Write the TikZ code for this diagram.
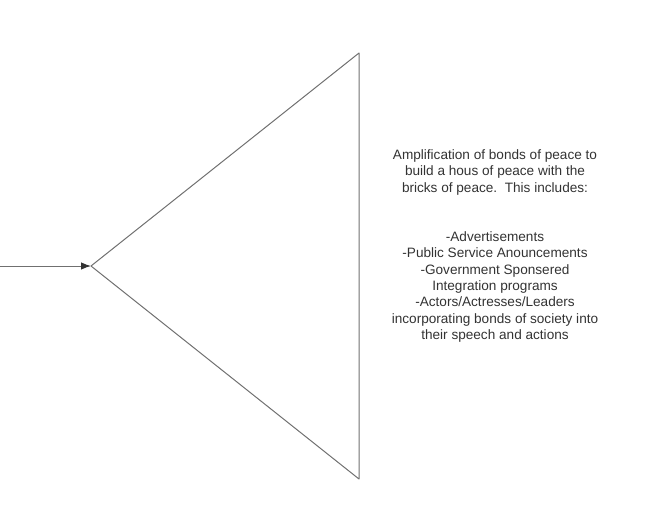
\documentclass[tikz,border=0pt]{standalone}
\usepackage{fontspec}
\setmainfont{Liberation Sans}
\usetikzlibrary{arrows.meta}
\definecolor{linegray}{HTML}{707070}
\definecolor{textgray}{HTML}{333333}
\tikzset{
  shapeline/.style={draw=linegray, line width=1pt, line join=round},
  connector/.style={draw=linegray, line width=1pt, -{Latex[length=10pt,width=7.5pt,color=textgray]}},
  label/.style={text=textgray, align=center, font=\fontsize{13.6pt}{16.4pt}\selectfont, inner sep=0pt}
}
\begin{document}
\begin{tikzpicture}[x=1pt,y=-1pt]
\useasboundingbox (0,0) rectangle (658,514);
\coordinate (L) at (91,266);
\coordinate (T) at (359,53);
\coordinate (B) at (359,479);
\coordinate (start) at (0,266);
\draw[shapeline] (L) -- (T) -- (B) -- cycle;
\draw[connector] (start) -- (L);
\node[label] (txt) at (495,246) {Amplification of bonds of peace to\\build a hous of peace with the\\bricks of peace.\ \ This includes:\\ \mbox{}\\ \mbox{}\\-Advertisements\\-Public Service Anouncements\\-Government Sponsered\\Integration programs\\-Actors/Actresses/Leaders\\incorporating bonds of society into\\their speech and actions};
\end{tikzpicture}
\end{document}
